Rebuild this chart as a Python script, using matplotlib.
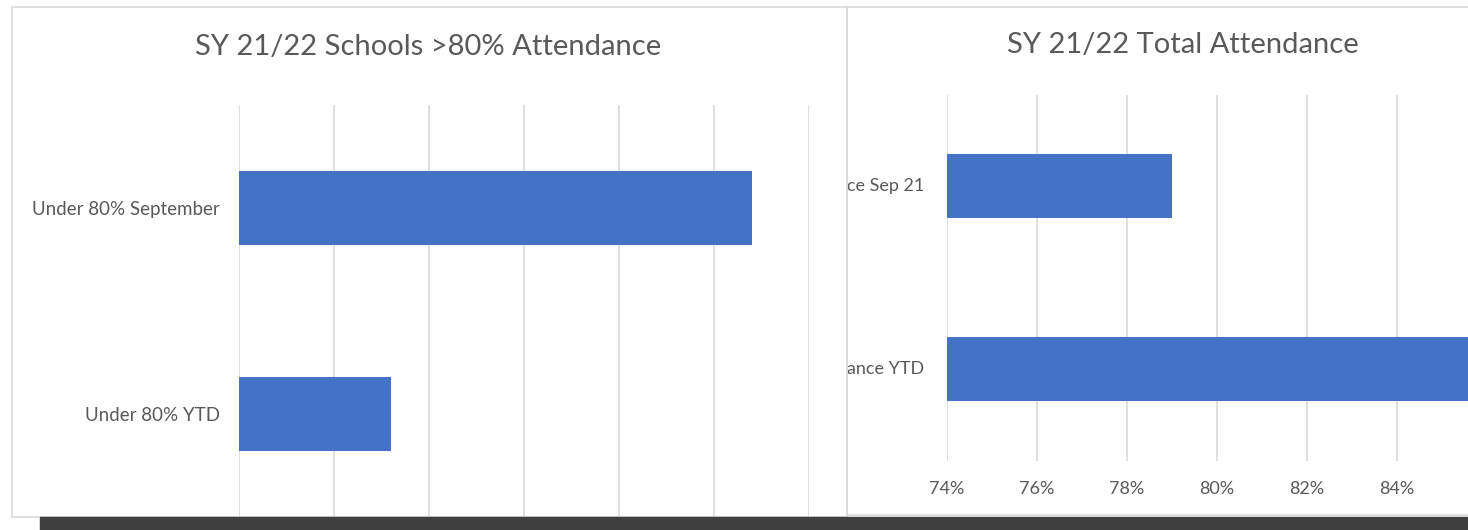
import matplotlib.pyplot as plt
from matplotlib.patches import Rectangle
from matplotlib.transforms import Bbox, TransformedBbox

plt.rcParams['font.family'] = ['Lato', 'DejaVu Sans']

# left chart: number of schools under 80% attendance
left_title = 'SY 21/22 Schools >80% Attendance'
left_categories = ['Under 80% September', 'Under 80% YTD']
left_values = [27, 8]
left_ticks = [0, 5, 10, 15, 20, 25, 30]

# right chart: total attendance rate
right_title = 'SY 21/22 Total Attendance'
right_categories = ['Total Attendance Sep 21', 'Total Attendance YTD']
right_values = [0.79, 0.87]
right_ticks = [0.74, 0.76, 0.78, 0.80, 0.82, 0.84, 0.86, 0.88]
right_labelled = [0.74, 0.76, 0.78, 0.80, 0.82, 0.84]  # the rest is cropped off

W, H = 1468, 530
bar_color = '#4472C4'
grid_color = '#d9d9d9'
text_color = '#595959'


def px_rect(x0, y0, x1, y1):
    # pixel box (top-left origin) -> figure fraction [l, b, w, h]
    return [x0 / W, 1 - y1 / H, (x1 - x0) / W, (y1 - y0) / H]


fig = plt.figure(figsize=(W / 100, H / 100), dpi=100)

# panel frames
for x0, y0, x1, y1 in [(12, 7, 847, 517), (847, 7, 1480, 515)]:
    l, b, w, h = px_rect(x0, y0, x1, y1)
    fig.add_artist(Rectangle((l, b), w, h, transform=fig.transFigure,
                             fill=False, edgecolor=grid_color, lw=1.2))

# ---- left chart
ax1 = fig.add_axes(px_rect(239, 105, 809, 517))
pos = [1, 0]
ax1.barh(pos, left_values, height=0.355, color=bar_color, zorder=2)
ax1.set_xlim(0, 30)
ax1.set_ylim(-0.5, 1.5)
ax1.set_xticks(left_ticks)
ax1.xaxis.grid(True, color=grid_color, lw=1.2)
ax1.set_axisbelow(True)
ax1.tick_params(axis='x', length=0, labelbottom=False)
ax1.set_yticks(pos)
ax1.set_yticklabels(left_categories, fontsize=13.5, color=text_color)
ax1.tick_params(axis='y', length=0, pad=14)
for s in ax1.spines.values():
    s.set_visible(False)
fig.text(428 / W, 1 - 47 / H, left_title, ha='center', va='center',
         fontsize=21, color=text_color)

# ---- right chart
ax2 = fig.add_axes(px_rect(947, 94.5, 1577, 460.5))
ax2.barh(pos, right_values, height=0.355, color=bar_color, zorder=2)
ax2.set_xlim(0.74, 0.88)
ax2.set_ylim(-0.5, 1.5)
ax2.set_xticks(right_ticks)
ax2.set_xticklabels([f'{t * 100:.0f}%' if t in right_labelled else ''
                     for t in right_ticks], fontsize=13, color=text_color)
ax2.xaxis.grid(True, color=grid_color, lw=1.2)
ax2.set_axisbelow(True)
ax2.tick_params(axis='x', length=0, pad=15)
ax2.set_yticks([])
for s in ax2.spines.values():
    s.set_visible(False)

clip = TransformedBbox(Bbox([[848 / W, 0], [1, 1]]), fig.transFigure)
for p, lab in zip(pos, right_categories):
    t = ax2.text(-23 / 630, p, lab, transform=ax2.get_yaxis_transform(),
                 ha='right', va='center', fontsize=13, color=text_color,
                 clip_on=True)
    t.set_clip_box(clip)

fig.text(1183 / W, 1 - 45 / H, right_title, ha='center', va='center',
         fontsize=21, color=text_color)

# dark strip at the bottom of the screenshot
l, b, w, h = px_rect(40, 517, W, H)
fig.add_artist(Rectangle((l, b), w, h, transform=fig.transFigure,
                         color='#404040', zorder=10))

fig.savefig('out.png', dpi=100)
